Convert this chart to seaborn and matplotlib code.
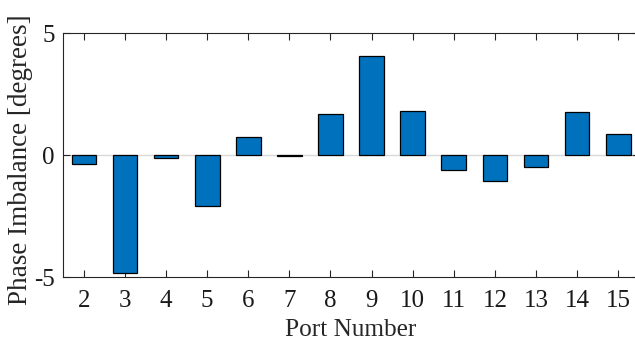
import matplotlib
matplotlib.use("Agg")
import matplotlib.pyplot as plt
import seaborn as sns
import pandas as pd

ports = [2, 3, 4, 5, 6, 7, 8, 9, 10, 11, 12, 13, 14, 15]
imbalance = [-0.34, -4.84, -0.11, -2.06, 0.74, -0.03, 1.69, 4.06, 1.82, -0.60, -1.05, -0.49, 1.76, 0.89]
yticks = [-5, 0, 5]

sns.set_theme(style="white")
plt.rcParams['font.family'] = ['Liberation Serif', 'DejaVu Serif']

df = pd.DataFrame({"Port": [str(p) for p in ports], "Imbalance": imbalance})

fig = plt.figure(figsize=(6.35, 3.4), dpi=100)
ax = fig.add_axes([63.3 / 635, 1 - 277.3 / 340, (638.8 - 63.3) / 635, (277.3 - 33.3) / 340])

ax.axhline(0, color="#d9d9d9", lw=1.0, zorder=0)
sns.barplot(data=df, x="Port", y="Imbalance", color="#0072BD", width=0.6,
            edgecolor="black", linewidth=0.9, saturation=1, ax=ax, zorder=2)

ax.set_ylim(-5, 5)
ax.set_xlim(-0.5, len(ports) - 0.5)
ax.set_yticks(yticks)
ax.set_yticklabels([str(t) for t in yticks])
ax.tick_params(axis="both", which="both", direction="in", length=5, width=0.8,
               color="#262626", labelsize=18, labelcolor="#1a1a1a",
               top=True, right=True, bottom=True, left=True)
ax.tick_params(axis="x", pad=9.5)
ax.tick_params(axis="y", pad=6)
for s in ax.spines.values():
    s.set_visible(True)
    s.set_color("#262626")
    s.set_linewidth(0.8)

ax.set_xlabel("Port Number", fontsize=18.2, color="#262626", labelpad=5)
ax.set_ylabel("Phase Imbalance [degrees]", fontsize=19.5, color="#262626")
ax.yaxis.set_label_coords(-0.053, 0.48)

fig.savefig("out.png", dpi=100)
